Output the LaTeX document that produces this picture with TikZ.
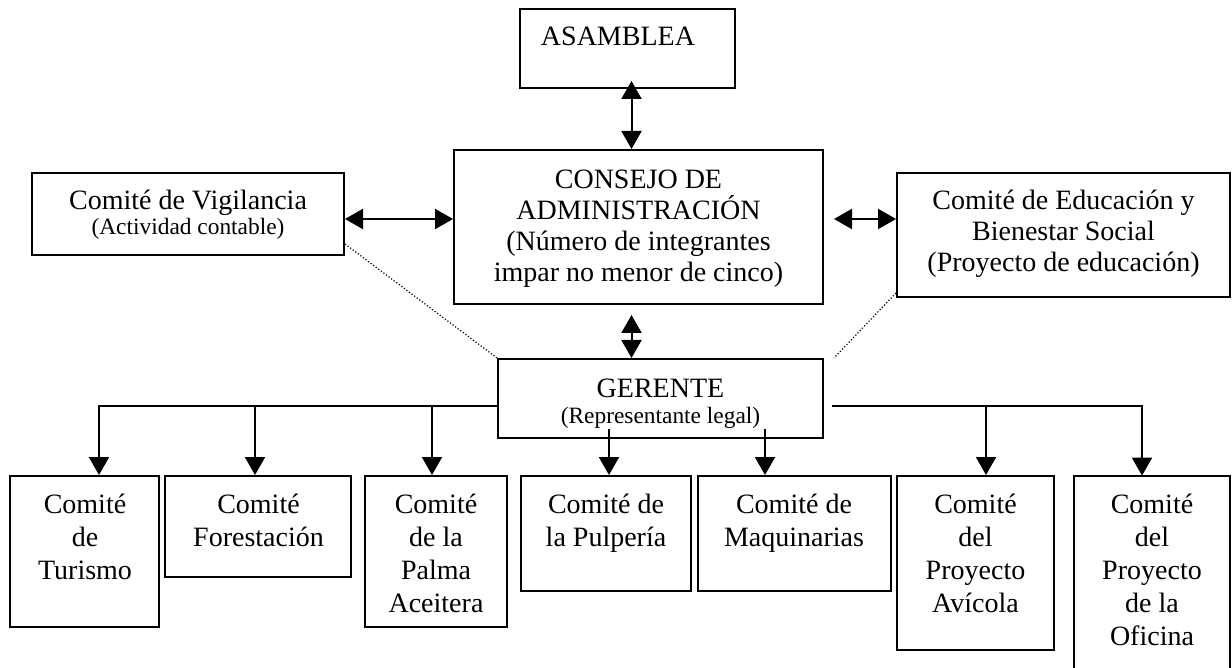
\documentclass[tikz,border=0pt]{standalone}
\usepackage{fontspec}
\setmainfont{Liberation Serif}
\usetikzlibrary{arrows.meta,fit}
\begin{document}
\begin{tikzpicture}[x=0.5pt,y=-0.5pt,
  box/.style={draw,line width=1pt,inner sep=0pt,rectangle},
  frame/.style={draw=none,inner sep=0pt,rectangle},
  txt/.style={align=center,inner sep=0pt,anchor=base,font=\fontsize{14}{16.5}\selectfont},
  arr/.style={line width=1pt,-{Triangle[length=9pt,width=10pt]}},
  dbl/.style={line width=1pt,{Triangle[length=9pt,width=10pt]}-{Triangle[length=9pt,width=10pt]}},
  dotline/.style={line width=0.6pt,densely dotted}
]
\path[use as bounding box,fill=white] (0,0) rectangle (1232,668);

% upper boxes
\node[box,fit={(520,9)(735,88)}] (asam) {};
\node[box,fit={(454,150)(823,304)}] (cons) {};
\node[box,fit={(32,173)(344,255)}] (vig) {};
\node[box,fit={(897,173)(1230,297)}] (edu) {};
\node[box,fit={(498,359)(823,438)}] (ger) {};

% lower boxes
\node[box,fit={(10,476)(159,627)}] (tur) {};
\node[box,fit={(165,476)(351,577)}] (fore) {};
\node[box,fit={(365,476)(507,627)}] (pal) {};
\node[box,fit={(521,476)(691,591)}] (pul) {};
\node[box,fit={(698,476)(891,591)}] (maq) {};
\node[box,fit={(897,476)(1054,650)}] (avi) {};
\node[frame,fit={(1074,476)(1230,668)}] (ofi) {};
\draw[line width=1pt] (ofi.south west) -- (ofi.north west) -- (ofi.north east) -- (ofi.south east);

% texts (base anchor = baseline of the last line)
\node[txt] (asamtxt) at (618,46) {ASAMBLEA};
\node[txt,font=\fontsize{14}{13}\selectfont] (vigtxt) at (188,235)
  {Comité de Vigilancia\\{\fontsize{11.7}{13}\selectfont (Actividad contable)}};
\node[txt,font=\fontsize{14}{15.5}\selectfont] (constxt) at (638.5,282)
  {CONSEJO DE\\ADMINISTRACIÓN\\(Número de integrantes\\impar no menor de cinco)};
\node[txt,font=\fontsize{14}{15.75}\selectfont] (edutxt) at (1063.5,272)
  {Comité de Educación y\\Bienestar Social\\(Proyecto de educación)};
\node[txt,font=\fontsize{14}{13}\selectfont] (gertxt) at (660.5,423)
  {GERENTE\\{\fontsize{11.7}{13}\selectfont (Representante legal)}};

\node[txt] (turtxt) at (85,579) {Comité\\de\\Turismo};
\node[txt] (foretxt) at (258.5,546) {Comité\\Forestación};
\node[txt] (paltxt) at (436,612) {Comité\\de la\\Palma\\Aceitera};
\node[txt] (pultxt) at (606,546) {Comité de\\la Pulpería};
\node[txt] (maqtxt) at (794,546) {Comité de\\Maquinarias};
\node[txt] (avitxt) at (975.5,612) {Comité\\del\\Proyecto\\Avícola};
\node[txt] (ofitxt) at (1152,645) {Comité\\del\\Proyecto\\de la\\Oficina};

% coordinates
\coordinate (ax) at (631.5,0);
\coordinate (hy) at (0,219);
\coordinate (j1) at (99,406);
\coordinate (j2) at (255,406);
\coordinate (j3) at (432,406);
\coordinate (k1) at (986,406);
\coordinate (k2) at (1142,406);
\coordinate (m1) at (609,429);
\coordinate (m2) at (765,429);

% double arrows
\draw[dbl,shorten <=-4pt] (ax |- asam.south) -- (ax |- cons.north);
\draw[dbl] (vig.east |- hy) -- (cons.west |- hy);
\draw[dbl,shorten <=5pt] (cons.east |- hy) -- (edu.west |- hy);
\draw[dbl,shorten <=5pt] (ax |- cons.south) -- (ax |- ger.north);

% dotted
\draw[dotline] ([yshift=6pt]vig.south east) -- (ger.north west);
\draw[dotline] ([yshift=2.5pt]edu.south west) -- ([xshift=5pt]ger.north east);

% tree
\draw[arr] (ger.west |- j1) -- (j1) -- (j1 |- tur.north);
\draw[arr] (j2) -- (j2 |- fore.north);
\draw[arr] (j3) -- (j3 |- pal.north);
\draw[arr] (m1) -- (m1 |- pul.north);
\draw[arr] (m2) -- (m2 |- maq.north);
\draw[arr,shorten <=4pt] (ger.east |- k2) -- (k2) -- (k2 |- ofi.north);
\draw[arr] (k1) -- (k1 |- avi.north);
\end{tikzpicture}
\end{document}
